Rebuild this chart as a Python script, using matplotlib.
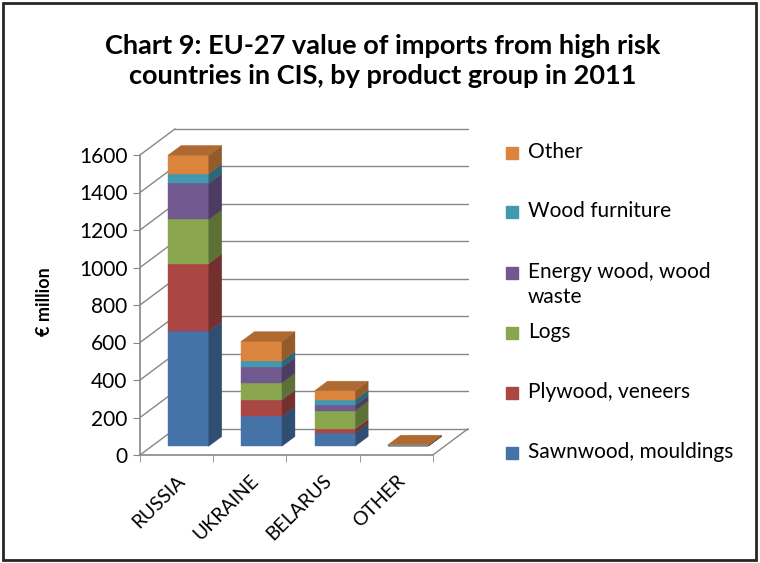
import numpy as np
import matplotlib
matplotlib.use("Agg")
import matplotlib.pyplot as plt
from matplotlib.colors import to_rgb
from matplotlib.patches import Rectangle

plt.rcParams['font.family'] = ['Lato', 'DejaVu Sans']

# ---- data (EUR million, 2011) ----
countries = ['RUSSIA', 'UKRAINE', 'BELARUS', 'OTHER']
groups = ['Sawnwood, mouldings', 'Plywood, veneers', 'Logs',
          'Energy wood, wood\nwaste', 'Wood furniture', 'Other']
sawnwood = [613, 160, 71, 1]
plywood = [361, 87, 20, 0.5]
logs = [235, 91, 98, 0.5]
energy_wood = [192, 82, 28, 0.5]
furniture = [53, 34, 30, 1.5]
other = [98, 105, 48, 3]
series = [sawnwood, plywood, logs, energy_wood, furniture, other]
colors = ['#4572A7', '#AA4643', '#89A54E', '#71588F', '#4198AF', '#DB843D']
yticks = [0, 200, 400, 600, 800, 1000, 1200, 1400, 1600]

# fake 3d: depth d in [0, 1] shifts a point right and up
DX = 0.478   # category units
DY = 139.0   # value units
D0, D1 = 0.34, 0.71   # bar front / back depth
W = 0.555


def proj(x, v, d):
    return x + d * DX, v + d * DY


def shade(c, f):
    return tuple(np.clip(np.array(to_rgb(c)) * f, 0, 1))


fig = plt.figure(figsize=(7.6, 5.63), dpi=100)
ax = fig.add_axes([140 / 760, 108 / 563, 329.4 / 760, 330 / 563])
ax.set_xlim(-0.5, 4.0)
ax.set_ylim(0, 1760)
ax.patch.set_visible(False)

grid = '#878787'
x_l, x_r = -0.5, len(countries) - 0.5

# back wall gridlines + side wall diagonals
for v in yticks:
    (a, b), (c, d) = proj(x_l, v, 1), proj(x_r, v, 1)
    ax.plot([a, c], [b, d], color=grid, lw=1, zorder=1)
    (a, b), (c, d) = proj(x_l, v, 0), proj(x_l, v, 1)
    ax.plot([a, c], [b, d], color=grid, lw=1, zorder=1)
# floor right edge
(a, b), (c, d) = proj(x_r, 0, 0), proj(x_r, 0, 1)
ax.plot([a, c], [b, d], color=grid, lw=1, zorder=1)

# stacked 3d columns
xs = np.arange(len(countries))
bottoms = np.zeros(len(countries))
for vals, col in zip(series, colors):
    vals = np.array(vals, dtype=float)
    for i, x in enumerate(xs):
        v0, v1 = bottoms[i], bottoms[i] + vals[i]
        xl, xr = x - W / 2, x + W / 2
        fx, fy = proj(xl, v0, D0)
        ax.bar(fx, vals[i], width=W, bottom=fy, align='edge', color=col,
               edgecolor=col, lw=0.3, zorder=3)
        side = [proj(xr, v0, D0), proj(xr, v1, D0), proj(xr, v1, D1), proj(xr, v0, D1)]
        ax.fill(*zip(*side), color=shade(col, 0.68), lw=0.3, zorder=3)
    bottoms += vals

# top faces take the colour of the last segment
for i, x in enumerate(xs):
    xl, xr = x - W / 2, x + W / 2
    v = bottoms[i]
    top = [proj(xl, v, D0), proj(xr, v, D0), proj(xr, v, D1), proj(xl, v, D1)]
    ax.fill(*zip(*top), color=shade(colors[-1], 0.8), lw=0.3, zorder=4)

# axes: front value axis and floor front edge
for s in ['top', 'right']:
    ax.spines[s].set_visible(False)
ax.spines['left'].set_bounds(0, 1600)
ax.spines['bottom'].set_bounds(x_l, x_r)
for s in ['left', 'bottom']:
    ax.spines[s].set_color(grid)
    ax.spines[s].set_linewidth(1.2)
ax.set_yticks(yticks)
ax.tick_params(axis='y', direction='out', length=5, color=grid, labelsize=15, pad=4)
ax.set_xticks(xs)
ax.set_xticks(np.arange(x_l, x_r + 0.01, 1), minor=True)
ax.tick_params(axis='x', which='major', length=0, pad=12)
ax.tick_params(axis='x', which='minor', direction='out', length=5, color=grid)
ax.set_xticklabels(countries, rotation=45, ha='right', va='top',
                   rotation_mode='anchor', fontsize=14)

fig.text(45 / 760, 1 - 302 / 563, '€ million', rotation=90, ha='center', va='center',
         fontsize=13, fontweight='bold')

fig.text(383 / 760, 1 - 61 / 563,
         'Chart 9: EU-27 value of imports from high risk\n'
         'countries in CIS, by product group in 2011',
         ha='center', va='center', fontsize=19.5, fontweight='bold', linespacing=1.3)

# legend, top entry first
rows_y = [453, 393, 333, 273, 212, 153]
for lab, col, yy in zip(groups, colors, rows_y):
    fig.patches.append(Rectangle((506 / 760, 1 - (yy + 6) / 563), 12 / 760, 12 / 563,
                                 transform=fig.transFigure, color=col))
    fig.text(528 / 760, 1 - (yy - 11) / 563, lab, ha='left', va='top',
             fontsize=15, linespacing=1.3)

# chart frame
fig.patches.append(Rectangle((3 / 760, 3 / 563), 753 / 760, 557 / 563, fill=False,
                             transform=fig.transFigure, ec='#262626', lw=2))

fig.savefig('out.png', dpi=100)
